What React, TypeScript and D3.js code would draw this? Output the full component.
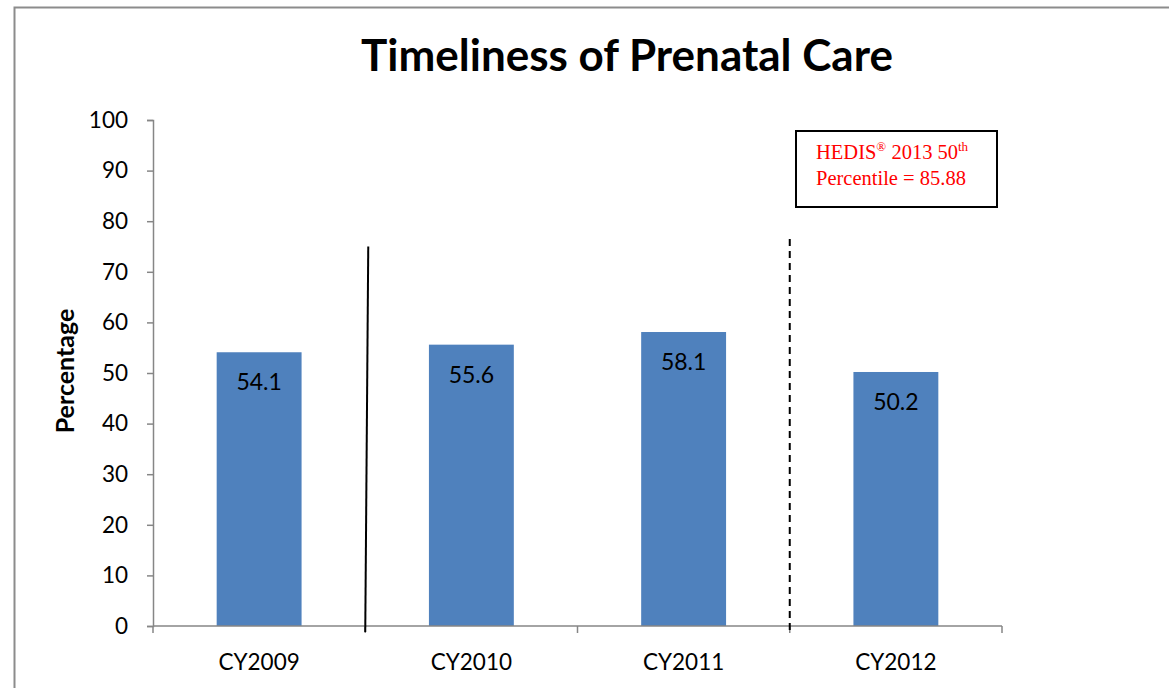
import { useEffect, useRef } from "react";
import * as d3 from "d3";

const categories = ["CY2009", "CY2010", "CY2011", "CY2012"];
const values = [54.1, 55.6, 58.1, 50.2];
const yTicks = [0, 10, 20, 30, 40, 50, 60, 70, 80, 90, 100];

function App() {
    const svgRef = useRef<SVGSVGElement>(null);

    useEffect(() => {
        const Width = 1169;
        const Height = 688;
        const Margin = { top: 120, right: 167, bottom: 62, left: 153 };
        const innerHeight = Height - Margin.top - Margin.bottom;

        const svg = d3.select(svgRef.current).attr("width", Width).attr("height", Height);
        svg.selectAll("*").remove();

        // outer frame
        svg.append("rect")
            .attr("x", 14.5)
            .attr("y", 7.5)
            .attr("width", Width)
            .attr("height", Height)
            .attr("fill", "#fff")
            .attr("stroke", "#8c8c8c")
            .attr("stroke-width", 2);

        const xScale = d3.scaleBand()
            .domain(categories)
            .range([Margin.left, Width - Margin.right])
            .paddingInner(0.6)
            .paddingOuter(0.3);

        const yScale = d3.scaleLinear()
            .domain([0, 100])
            .range([Margin.top + innerHeight, Margin.top]);

        const font = "Lato, 'Open Sans', sans-serif";

        // bars
        svg.append("g")
            .selectAll("rect")
            .data(values)
            .join("rect")
            .attr("x", (_, i) => xScale(categories[i])!)
            .attr("y", (d) => yScale(d))
            .attr("width", xScale.bandwidth())
            .attr("height", (d) => yScale(0) - yScale(d))
            .attr("fill", "#4f81bd");

        // value labels
        svg.append("g")
            .selectAll("text")
            .data(values)
            .join("text")
            .attr("x", (_, i) => xScale(categories[i])! + xScale.bandwidth() / 2)
            .attr("y", (d) => yScale(d) + 38)
            .attr("text-anchor", "middle")
            .attr("font-family", font)
            .attr("font-size", 23)
            .attr("fill", "#000")
            .text((d) => d.toFixed(1));

        // y axis
        const yAxis = d3.axisLeft(yScale).tickValues(yTicks).tickSize(6).tickSizeOuter(6).tickPadding(19);
        const yG = svg.append("g")
            .attr("transform", `translate(${Margin.left},0)`)
            .call(yAxis);
        yG.selectAll("path, line").attr("stroke", "#868686").attr("stroke-width", 1.5);
        yG.selectAll("text")
            .attr("font-family", font)
            .attr("font-size", 22.5)
            .attr("fill", "#000");

        // x axis with ticks at category boundaries
        const step = xScale.step();
        const x0 = Margin.left;
        const boundaries = d3.range(categories.length + 1).map((i) => x0 + i * step);
        const xG = svg.append("g");
        xG.append("line")
            .attr("x1", x0)
            .attr("x2", boundaries[boundaries.length - 1])
            .attr("y1", yScale(0))
            .attr("y2", yScale(0))
            .attr("stroke", "#868686")
            .attr("stroke-width", 1.5);
        xG.selectAll(".tick")
            .data(boundaries)
            .join("line")
            .attr("x1", (d) => d)
            .attr("x2", (d) => d)
            .attr("y1", yScale(0))
            .attr("y2", yScale(0) + 7)
            .attr("stroke", "#868686")
            .attr("stroke-width", 1.5);
        xG.selectAll("text")
            .data(categories)
            .join("text")
            .attr("x", (d) => xScale(d)! + xScale.bandwidth() / 2)
            .attr("y", yScale(0) + 44)
            .attr("text-anchor", "middle")
            .attr("font-family", font)
            .attr("font-size", 22.5)
            .attr("fill", "#000")
            .text((d) => d);

        // separator lines
        svg.append("line")
            .attr("x1", boundaries[1] + 3)
            .attr("x2", boundaries[1])
            .attr("y1", yScale(75))
            .attr("y2", yScale(0) + 6)
            .attr("stroke", "#000")
            .attr("stroke-width", 2);
        svg.append("line")
            .attr("x1", boundaries[3])
            .attr("x2", boundaries[3])
            .attr("y1", yScale(76.5))
            .attr("y2", yScale(0) + 6)
            .attr("stroke", "#000")
            .attr("stroke-width", 2)
            .attr("stroke-dasharray", "7,5");

        // benchmark box
        const box = svg.append("g").attr("transform", "translate(796,131)");
        box.append("rect")
            .attr("width", 201)
            .attr("height", 76)
            .attr("fill", "#fff")
            .attr("stroke", "#000")
            .attr("stroke-width", 2);
        const t1 = box.append("text")
            .attr("x", 20)
            .attr("y", 28)
            .attr("font-family", "'Liberation Serif', serif")
            .attr("font-size", 20.5)
            .attr("fill", "#ff0000");
        t1.append("tspan").text("HEDIS");
        t1.append("tspan").attr("font-size", 13).attr("dy", -8).text("®");
        t1.append("tspan").attr("dy", 8).text(" 2013 50");
        t1.append("tspan").attr("font-size", 13).attr("dy", -8).text("th");
        box.append("text")
            .attr("x", 20)
            .attr("y", 54)
            .attr("font-family", "'Liberation Serif', serif")
            .attr("font-size", 20.5)
            .attr("fill", "#ff0000")
            .text("Percentile = 85.88");

        // title
        svg.append("text")
            .attr("x", 627)
            .attr("y", 71)
            .attr("text-anchor", "middle")
            .attr("font-family", font)
            .attr("font-weight", "bold")
            .attr("font-size", 44)
            .attr("fill", "#000")
            .text("Timeliness of Prenatal Care");

        // y label
        svg.append("text")
            .attr("transform", `translate(74,${yScale(50) - 2}) rotate(-90)`)
            .attr("text-anchor", "middle")
            .attr("font-family", font)
            .attr("font-weight", "bold")
            .attr("font-size", 25)
            .attr("fill", "#000")
            .text("Percentage");
    }, []);

    return (
        <div style={{ position: "absolute", left: 0, top: 0 }}>
            <svg ref={svgRef}></svg>
        </div>
    );
}

export default App;
